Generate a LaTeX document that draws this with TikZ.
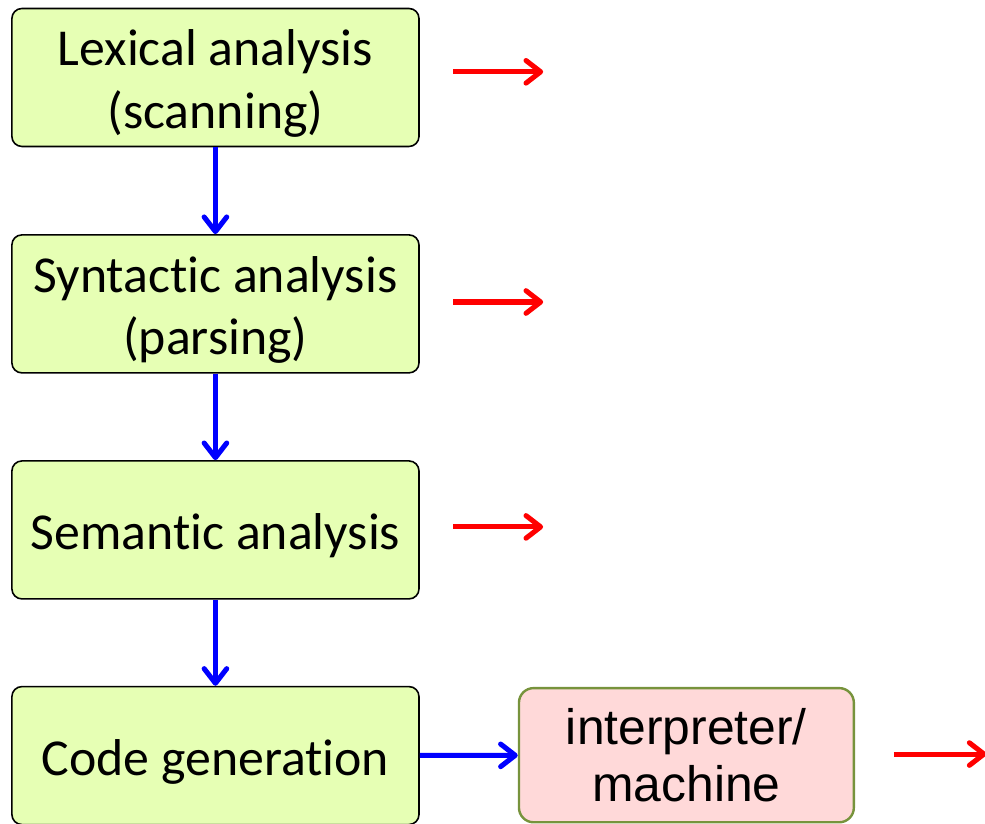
\documentclass[tikz,border=0pt]{standalone}
\usepackage{fontspec}
\setmainfont[Ligatures=NoCommon]{Carlito}
\newfontfamily\arialfont{Liberation Sans}
\usetikzlibrary{arrows.meta,positioning,calc}
\definecolor{phasegreen}{RGB}{230,255,180}
\definecolor{runpink}{RGB}{255,217,217}
\definecolor{runolive}{RGB}{119,147,60}
\definecolor{flowblue}{RGB}{0,0,255}
\definecolor{outred}{RGB}{255,0,0}
\newcommand{\topgap}{\rule{0pt}{36pt}}

\tikzset{
  phase/.style={draw=black, line width=1.2pt, fill=phasegreen, rounded corners=7.5pt,
    minimum width=10.77cm, minimum height=3.65cm, align=center,
    font=\fontsize{39}{47}\selectfont},
  runner/.style={draw=runolive, line width=1.8pt, fill=runpink, rounded corners=11pt,
    minimum width=8.86cm, minimum height=3.55cm, align=center,
    font=\arialfont\fontsize{37.5}{43}\selectfont},
  flow/.style={draw=flowblue, line width=3.8pt,
    -{Straight Barb[length=11pt,width=17pt,line cap=round,line join=round]}},
  output/.style={draw=outred, line width=3.8pt,
    -{Straight Barb[length=11pt,width=17pt,line cap=round,line join=round]}}
}

\begin{document}
\begin{tikzpicture}[scale=1.0]
    \useasboundingbox (0,0) rectangle (26.06,-21.80);
    % phases
    \node[phase] (lex) at (5.70,-2.05) {\topgap Lexical analysis\\(scanning)};
    \node[phase] (syn) at (5.70,-8.04) {\topgap Syntactic analysis\\(parsing)};
    \node[phase] (sem) at (5.70,-14.02) {\topgap Semantic analysis};
    \node[phase] (gen) at (5.70,-19.99) {\topgap Code generation};
    \node[runner] (run) at (18.16,-19.98) {interpreter/\\machine};
    % free ends of the outputs
    \coordinate (lexA) at (11.99,-1.90);  \coordinate (lexB) at (14.37,-1.90);
    \coordinate (synA) at (11.99,-7.99);  \coordinate (synB) at (14.37,-7.99);
    \coordinate (semA) at (11.99,-13.94); \coordinate (semB) at (14.37,-13.94);
    \coordinate (runA) at (23.65,-19.95); \coordinate (runB) at (26.10,-19.95);
    \draw[flow] (lex) -- (syn);
    \draw[flow] (syn) -- (sem);
    \draw[flow] (sem) -- (gen);
    \draw[flow] (gen) -- (run);
    \draw[output] (lexA) -- (lexB);
    \draw[output] (synA) -- (synB);
    \draw[output] (semA) -- (semB);
    \draw[output] (runA) -- (runB);
  \end{tikzpicture}
\end{document}
